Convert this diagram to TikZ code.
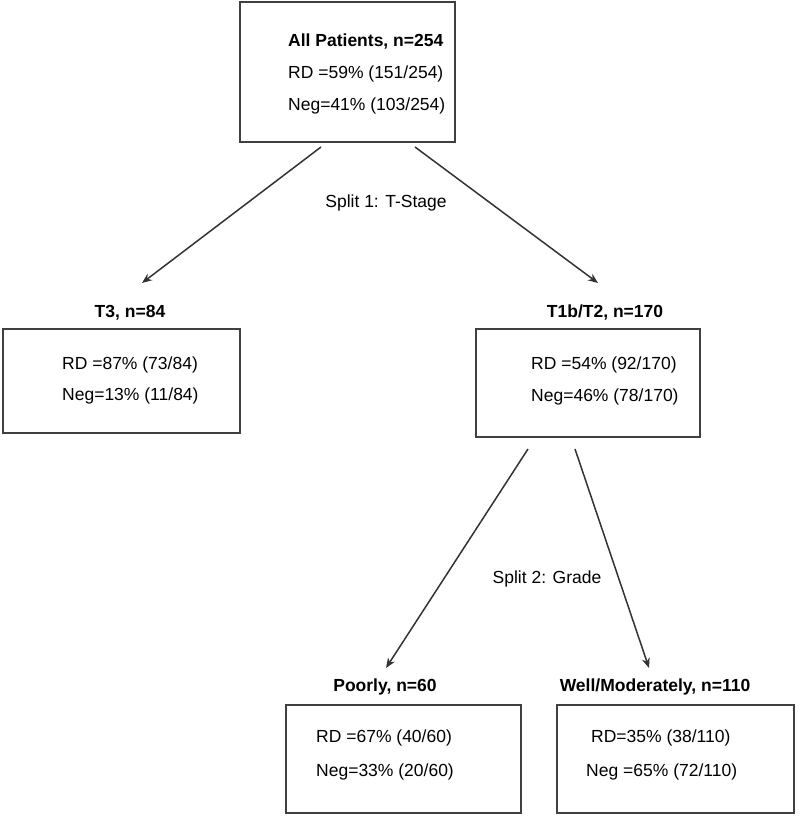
\documentclass[tikz,border=0pt]{standalone}
\usepackage{fontspec}
\setmainfont{Liberation Sans}
\usetikzlibrary{arrows.meta}
\begin{document}
\begin{tikzpicture}[x=1pt,y=-1pt,
  box/.style={draw=black!75,line width=1.6pt},
  txt/.style={anchor=base west,inner sep=0pt,font=\fontsize{17.5}{20}\selectfont,text=black},
  lbl/.style={anchor=base,inner sep=0pt,font=\fontsize{17.5}{20}\selectfont\bfseries,text=black},
  split/.style={anchor=base,inner sep=0pt,font=\fontsize{17.5}{20}\selectfont,text=black},
  arr/.style={draw=black!80,line width=1.5pt,-{Stealth[length=10pt,width=8pt]}}]
\useasboundingbox (0,0) rectangle (800,816);
\fill[white] (0,0) rectangle (800,816);
% top box
\draw[box] (240,2) rectangle (455,142);
\node[txt,font=\fontsize{17.5}{20}\selectfont\bfseries] (all) at (288,47) {All Patients, n=254};
\node[txt] (allrd) at (288,78) {RD =59\% (151/254)};
\node[txt] (allneg) at (288,110) {Neg=41\% (103/254)};
% T3
\node[lbl] (t3l) at (130,317) {T3, n=84};
\draw[box] (3,329) rectangle (240,433);
\node[txt] (t3rd) at (62,369) {RD =87\% (73/84)};
\node[txt] (t3neg) at (62,400) {Neg=13\% (11/84)};
% T1b/T2
\node[lbl] (t12l) at (605,317) {T1b/T2, n=170};
\draw[box] (476,329) rectangle (700,437);
\node[txt] (t12rd) at (531,369) {RD =54\% (92/170)};
\node[txt] (t12neg) at (531,401) {Neg=46\% (78/170)};
% Poorly
\node[lbl] (pl) at (385,691) {Poorly, n=60};
\draw[box] (286,705) rectangle (521,813);
\node[txt] (prd) at (316,742) {RD =67\% (40/60)};
\node[txt] (pneg) at (316,776) {Neg=33\% (20/60)};
% Well
\node[lbl] (wl) at (655,691) {Well/Moderately, n=110};
\draw[box] (557,705) rectangle (794,813);
\node[txt] (wrd) at (591,742) {RD=35\% (38/110)};
\node[txt] (wneg) at (586,776) {Neg =65\% (72/110)};
% split labels
\node[split] (s1) at (386,207) {Split 1: T-Stage};
\node[split] (s2) at (547,583) {Split 2: Grade};
% connectors
\coordinate (a1s) at (321,147); \coordinate (a1e) at (142,283);
\coordinate (a2s) at (415,147); \coordinate (a2e) at (598,283);
\coordinate (a3s) at (528,449); \coordinate (a3e) at (386,668);
\coordinate (a4s) at (575,449); \coordinate (a4e) at (649,668);
\draw[arr] (a1s) -- (a1e);
\draw[arr] (a2s) -- (a2e);
\draw[arr] (a3s) -- (a3e);
\draw[arr] (a4s) -- (a4e);
\end{tikzpicture}
\end{document}
